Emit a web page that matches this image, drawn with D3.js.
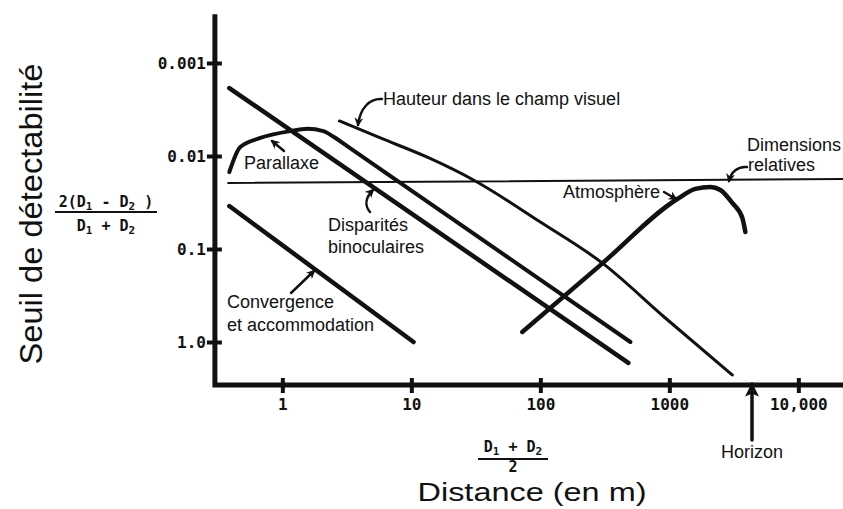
<!DOCTYPE html>
<html>
<head>
<meta charset="utf-8">
<script src="https://cdn.jsdelivr.net/npm/d3@7"></script>
<style>
  html, body { margin: 0; padding: 0; background: #fff; }
  svg { display: block; }
  .lbl { font-family: Arial, "Liberation Sans", sans-serif; font-size: 18px; fill: #111; }
  .tick text { font-family: "DejaVu Sans Mono", monospace; font-weight: bold; font-size: 16px; fill: #111; }
  .frac { font-family: "DejaVu Sans Mono", monospace; font-weight: bold; font-size: 15px; fill: #111; }
</style>
</head>
<body>
<script>
// ---------- data ----------
const xTicks = [1, 10, 100, 1000, 10000];
const xTickLabels = ["1", "10", "100", "1000", "10,000"];
const yTicks = [0.001, 0.01, 0.1, 1];
const yTickLabels = ["0.001", "0.01", "0.1", "1.0"];
const xExtent = [0.3, 22300];
const yExtent = [0.0003, 2.9];

// series: [distance, threshold]
const convergence = [[0.388, 0.0345], [10.4, 1.0]];
const disparites = [[0.388, 0.00186], [481, 1.68]];
const parallaxe = [[0.388, 0.0149], [0.472, 0.0080], [0.675, 0.0064], [1.15, 0.0054],
                   [1.56, 0.0051], [2.08, 0.0054], [2.49, 0.0062], [3.37, 0.0083], [499, 1.0]];
const hauteur = [[2.77, 0.0042], [5.75, 0.0064], [13.3, 0.0103], [30.3, 0.0181],
                 [100, 0.0513], [303, 0.142], [931, 0.552], [3078, 2.26]];
const atmosphere = [[72.5, 0.78], [292, 0.149], [1153, 0.029], [1591, 0.0226], [2080, 0.0215],
                    [2485, 0.0232], [3078, 0.032], [3681, 0.0464], [3882, 0.0656]];
const dimensions = [[0.38, 0.0195], [22300, 0.0177]];

// ---------- setup ----------
const W = 843, H = 509;
const svg = d3.select("body").append("svg").attr("width", W).attr("height", H);
const x = d3.scaleLog().domain([1, 10000]).range([282.35, 798.35]);
const y = d3.scaleLog().domain([0.001, 1]).range([63, 342]);

const defs = svg.append("defs");
defs.append("marker").attr("id", "ah").attr("viewBox", "0 0 10 10")
  .attr("refX", 8).attr("refY", 5).attr("markerWidth", 9).attr("markerHeight", 9)
  .attr("markerUnits", "userSpaceOnUse").attr("orient", "auto")
  .append("path").attr("d", "M0,0 L10,5 L0,10 L3,5 Z").attr("fill", "#111");
defs.append("marker").attr("id", "ahBig").attr("viewBox", "0 0 10 10")
  .attr("refX", 9).attr("refY", 5).attr("markerWidth", 18).attr("markerHeight", 14)
  .attr("markerUnits", "userSpaceOnUse").attr("orient", "auto")
  .append("path").attr("d", "M0,0 L10,5 L0,10 L2,5 Z").attr("fill", "#111");

const x0 = x(xExtent[0]), x1 = x(xExtent[1]);
const yTop = y(yExtent[0]), yBot = y(yExtent[1]);

// ---------- axes ----------
const gx = svg.append("g").attr("class", "xaxis").attr("transform", `translate(0,${yBot})`)
  .call(d3.axisBottom(x).tickValues(xTicks).tickFormat((d, i) => xTickLabels[i]).tickSizeOuter(0));
gx.select(".domain").remove();
gx.selectAll(".tick line").attr("y1", -7).attr("y2", 8).attr("stroke", "#111").attr("stroke-width", 4);
gx.selectAll(".tick text").attr("y", 25).attr("dy", null).attr("font-size", null).attr("font-family", null);

const gy = svg.append("g").attr("class", "yaxis").attr("transform", `translate(${x0},0)`)
  .call(d3.axisLeft(y).tickValues(yTicks).tickFormat((d, i) => yTickLabels[i]).tickSizeOuter(0));
gy.select(".domain").remove();
gy.selectAll(".tick line").attr("x1", 7).attr("x2", -8).attr("stroke", "#111").attr("stroke-width", 4);
gy.selectAll(".tick text").attr("x", -9).attr("dy", "0.36em").attr("font-size", null).attr("font-family", null);

svg.append("path")
  .attr("d", `M${x0},${yTop} L${x0},${yBot} L${x1},${yBot}`)
  .attr("fill", "none").attr("stroke", "#111").attr("stroke-width", 5);

// ---------- series ----------
const line = d3.line().x(d => x(d[0])).y(d => y(d[1]));
const curve = d3.line().x(d => x(d[0])).y(d => y(d[1])).curve(d3.curveMonotoneX);

function draw(data, gen, w) {
  svg.append("path").datum(data).attr("d", gen).attr("fill", "none")
    .attr("stroke", "#111").attr("stroke-width", w).attr("stroke-linecap", "round").attr("stroke-linejoin", "round");
}
draw(dimensions, line, 2);
draw(convergence, line, 4.5);
draw(disparites, line, 4.5);
draw(parallaxe, curve, 4);
draw(hauteur, curve, 3);
draw(atmosphere, curve, 4.5);

// ---------- labels ----------
function lbl(t, px, py) { svg.append("text").attr("class", "lbl").attr("x", px).attr("y", py).text(t); }
lbl("Parallaxe", 244, 169);
lbl("Hauteur dans le champ visuel", 383, 105);
lbl("Disparités", 328, 231);
lbl("binoculaires", 328, 253);
lbl("Convergence", 227, 308);
lbl("et accommodation", 227, 331);
lbl("Atmosphère", 563, 198);
lbl("Dimensions", 747, 151);
lbl("relatives", 748, 171);
lbl("Horizon", 721, 458);

// annotation arrows
function arrow(d, big) {
  svg.append("path").attr("d", d).attr("fill", "none").attr("stroke", "#111")
    .attr("stroke-width", big ? 3.5 : 2.5).attr("stroke-linecap", "round")
    .attr("marker-end", big ? "url(#ahBig)" : "url(#ah)");
}
arrow("M284,151 L272,141");
arrow("M382,99 C370,98 360,108 358,125");
arrow("M370,212 C364,205 366,197 373,190");
arrow("M291,293 L314,271");
arrow("M664,192 L676,199");
arrow("M747,167 C738,166 731,172 729,181");
arrow(`M752,440 L752,${yBot - 1}`, true);

// ---------- titles & fractions ----------
svg.append("text").attr("class", "lbl")
  .attr("transform", "translate(42,214) rotate(-90)")
  .attr("text-anchor", "middle")
  .attr("textLength", 301).attr("lengthAdjust", "spacingAndGlyphs")
  .style("font-size", "31px")
  .text("Seuil de détectabilité");

svg.append("text").attr("class", "lbl")
  .attr("x", 532).attr("y", 501).attr("text-anchor", "middle")
  .attr("textLength", 229).attr("lengthAdjust", "spacingAndGlyphs")
  .style("font-size", "26px")
  .text("Distance (en m)");

function frac(cx, yNum, yLine, yDen, num, den, halfW) {
  const tn = svg.append("text").attr("class", "frac").attr("x", cx).attr("y", yNum).attr("text-anchor", "middle");
  num.forEach(p => tn.append("tspan").attr("dy", p.dy || 0).style("font-size", p.sub ? "11px" : null).text(p.t));
  svg.append("line").attr("x1", cx - halfW).attr("x2", cx + halfW).attr("y1", yLine).attr("y2", yLine)
    .attr("stroke", "#111").attr("stroke-width", 2);
  const td = svg.append("text").attr("class", "frac").attr("x", cx).attr("y", yDen).attr("text-anchor", "middle");
  den.forEach(p => td.append("tspan").attr("dy", p.dy || 0).style("font-size", p.sub ? "11px" : null).text(p.t));
  return td;
}
frac(106, 207, 212, 231,
  [{t: "2(D"}, {t: "1", sub: true, dy: 3}, {t: " - D", dy: -3}, {t: "2", sub: true, dy: 3}, {t: " )", dy: -3}],
  [{t: "D"}, {t: "1", sub: true, dy: 3}, {t: " + D", dy: -3}, {t: "2", sub: true, dy: 3}],
  51);
frac(513, 452, 459, 472,
  [{t: "D"}, {t: "1", sub: true, dy: 3}, {t: " + D", dy: -3}, {t: "2", sub: true, dy: 3}],
  [{t: "2"}],
  35).style("font-size", "15px");
</script>
</body>
</html>
